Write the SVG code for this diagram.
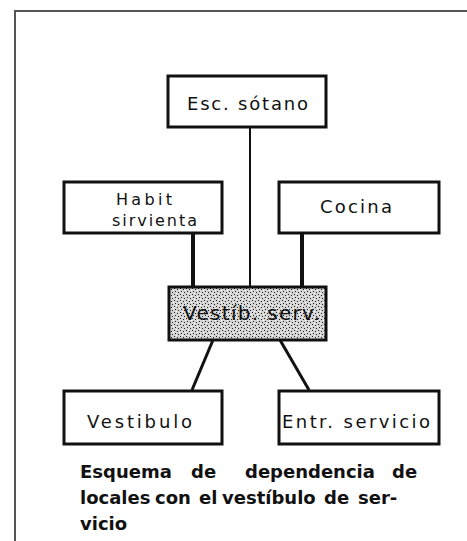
<svg xmlns="http://www.w3.org/2000/svg" width="467" height="541" viewBox="0 0 467 541">
<defs>
<style>
.box{fill:#fff;stroke:#111;stroke-width:3}
.lbl{font-family:"DejaVu Sans","Liberation Sans",sans-serif;font-size:18px;fill:#111}
.sm{font-size:16px}
.cap{font-family:"DejaVu Sans","Liberation Sans",sans-serif;font-size:18px;font-weight:bold;fill:#111}
.ln{stroke:#111;fill:none}
</style>
<pattern id="stip" width="6" height="6" patternUnits="userSpaceOnUse">
<rect width="6" height="6" fill="#d4d4d4"/>
<rect x="0" y="0" width="1" height="1" fill="#222"/>
<rect x="3" y="1" width="1" height="1" fill="#222"/>
<rect x="1" y="3" width="1" height="1" fill="#222"/>
<rect x="4" y="4" width="1" height="1" fill="#222"/>
<rect x="5" y="2" width="1" height="1" fill="#fff"/>
<rect x="2" y="5" width="1" height="1" fill="#fff"/>
</pattern>
</defs>
<rect width="467" height="541" fill="#fff"/>
<path d="M15 541 V11 H467" fill="none" stroke="#555" stroke-width="2"/>
<g id="connectors">
<line class="ln" x1="250" y1="127" x2="250" y2="287" stroke-width="2"/>
<line class="ln" x1="193" y1="233" x2="193" y2="287" stroke-width="4"/>
<line class="ln" x1="302" y1="233" x2="302" y2="287" stroke-width="4"/>
<line class="ln" x1="213" y1="340" x2="192" y2="390" stroke-width="3"/>
<line class="ln" x1="280" y1="340" x2="309" y2="390" stroke-width="3"/>
</g>
<g id="esc-sotano">
<rect class="box" x="168" y="76" width="158" height="51"/>
<text class="lbl" x="187" y="110" textLength="121" lengthAdjust="spacing">Esc. sótano</text>
</g>
<g id="habit-sirvienta">
<rect class="box" x="64" y="182" width="158" height="51"/>
<text class="lbl sm" x="116" y="205" textLength="56" lengthAdjust="spacing">Habit</text>
<text class="lbl sm" x="112" y="226" textLength="85" lengthAdjust="spacing">sirvienta</text>
</g>
<g id="cocina">
<rect class="box" x="279" y="182" width="160" height="51"/>
<text class="lbl" x="320" y="213" textLength="72" lengthAdjust="spacing">Cocina</text>
</g>
<g id="vestib-serv">
<rect x="169" y="287" width="157" height="53" fill="url(#stip)" stroke="#111" stroke-width="3"/>
<text class="lbl" x="183" y="320" style="font-size:20px" textLength="137" lengthAdjust="spacing">Vestíb. serv.</text>
</g>
<g id="vestibulo">
<rect class="box" x="64" y="391" width="158" height="53"/>
<text class="lbl" x="87" y="428" textLength="105" lengthAdjust="spacing">Vestibulo</text>
</g>
<g id="entr-servicio">
<rect class="box" x="279" y="391" width="160" height="53"/>
<text class="lbl" x="282" y="428" textLength="148" lengthAdjust="spacing">Entr. servicio</text>
</g>
<g id="caption">
<text class="cap" y="478"><tspan x="80">Esquema</tspan><tspan x="191">de</tspan><tspan x="245">dependencia</tspan><tspan x="392">de</tspan></text>
<text class="cap" y="504"><tspan x="80">locales</tspan><tspan x="155">con</tspan><tspan x="199">el</tspan><tspan x="222">vestíbulo</tspan><tspan x="324">de</tspan><tspan x="358">ser-</tspan></text>
<text class="cap" y="530"><tspan x="80">vicio</tspan></text>
</g>
</svg>
